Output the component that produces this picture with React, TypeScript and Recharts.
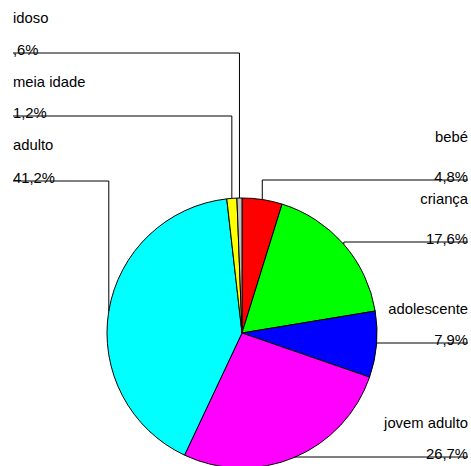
import { Cell, Pie, PieChart } from "recharts";

const categories = [
  "bebé",
  "criança",
  "adolescente",
  "jovem adulto",
  "adulto",
  "meia idade",
  "idoso",
];
const shares = [4.8, 17.6, 7.9, 26.7, 41.2, 1.2, 0.6];
const shareLabels = ["4,8%", "17,6%", "7,9%", "26,7%", "41,2%", "1,2%", ",6%"];
const sliceColors = [
  "#ff0000",
  "#00ff00",
  "#0000ff",
  "#ff00ff",
  "#00ffff",
  "#ffff00",
  "#c0c0c0",
];

// where each label sits (text baseline of the name, y of the leader line)
const labelLayout = [
  { side: "right", nameY: 142, lineY: 180 },
  { side: "right", nameY: 204, lineY: 242 },
  { side: "right", nameY: 314, lineY: 343 },
  { side: "right", nameY: 428, lineY: 457 },
  { side: "left", nameY: 150, lineY: 181 },
  { side: "left", nameY: 87, lineY: 116 },
  { side: "left", nameY: 23, lineY: 53 },
];

const data = categories.map((name, i) => ({ name, value: shares[i] }));

const RAD = Math.PI / 180;
const FONT = "'Liberation Sans', Arial, sans-serif";

function LeaderLabel(props: any) {
  const { cx, cy, midAngle, outerRadius, index } = props;
  const lay = labelLayout[index];
  const px = cx + outerRadius * Math.cos(-midAngle * RAD);
  const py = cy + outerRadius * Math.sin(-midAngle * RAD);
  const left = lay.side === "left";
  const tx = left ? 13 : 468;
  const d = `M${px},${py} L${px},${lay.lineY} L${tx},${lay.lineY}`;
  return (
    <g>
      <path d={d} stroke="#000" strokeWidth={1} fill="none" />
      <text
        x={tx}
        y={lay.nameY}
        textAnchor={left ? "start" : "end"}
        fontFamily={FONT}
        fontSize={14.8}
        fill="#000"
      >
        {categories[index]}
      </text>
      <text
        x={tx}
        y={lay.lineY + 2}
        textAnchor={left ? "start" : "end"}
        fontFamily={FONT}
        fontSize={14.8}
        fill="#000"
      >
        {shareLabels[index]}
      </text>
    </g>
  );
}

export default function App() {
  return (
    <div style={{ position: "absolute", left: 0, top: 0, background: "#fff" }}>
      <PieChart width={471} height={466} margin={{ top: 0, right: 0, bottom: 0, left: 0 }}>
        <Pie
          data={data}
          dataKey="value"
          nameKey="name"
          cx={242}
          cy={333}
          outerRadius={135}
          startAngle={90}
          endAngle={-270}
          stroke="#000"
          strokeWidth={1}
          label={LeaderLabel}
          labelLine={false}
          isAnimationActive={false}
        >
          {data.map((d, i) => (
            <Cell key={d.name} fill={sliceColors[i]} />
          ))}
        </Pie>
      </PieChart>
    </div>
  );
}
